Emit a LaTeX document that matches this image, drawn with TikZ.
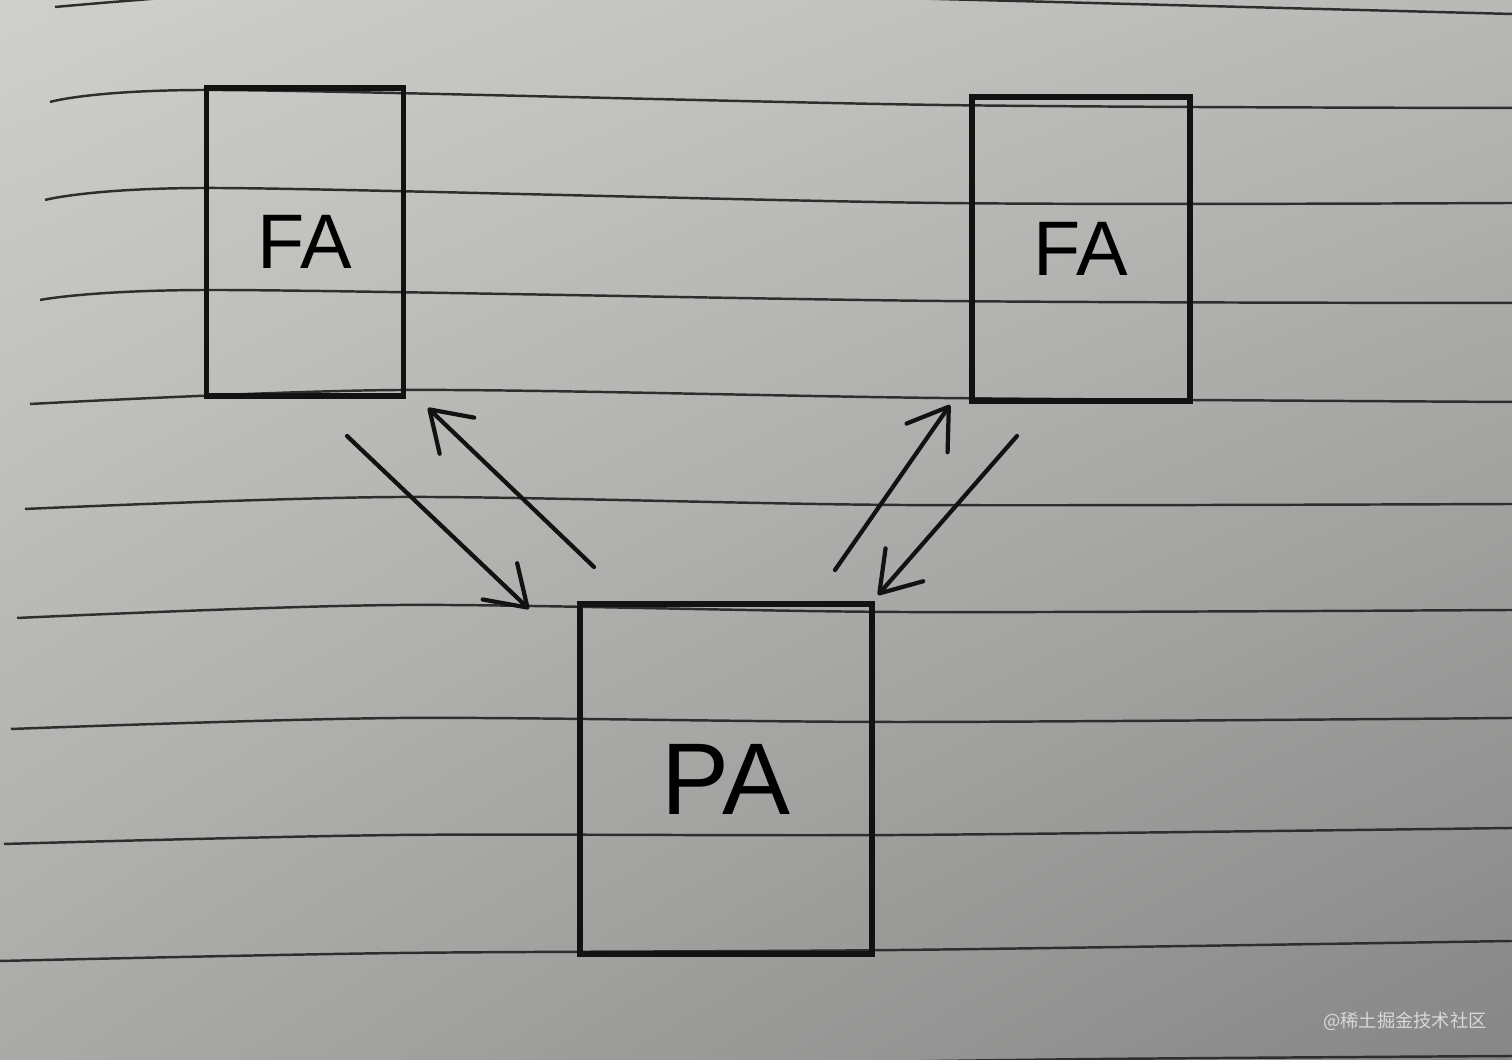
\documentclass[tikz,border=0pt]{standalone}
\usepackage{fontspec}
\setsansfont{Liberation Sans}
\newfontfamily\cjkfont{Noto Sans CJK SC}
\usetikzlibrary{arrows.meta,shadings}

\definecolor{ink}{HTML}{121212}
\definecolor{ruling}{HTML}{2E2E2E}
\definecolor{wmgray}{HTML}{D8D8D8}
\definecolor{paperUL}{RGB}{207,207,203}
\definecolor{paperUR}{RGB}{184,184,182}
\definecolor{paperLL}{RGB}{170,170,168}
\definecolor{paperLR}{RGB}{134,134,134}

\begin{document}
\begin{tikzpicture}[
    box/.style={draw=ink, line width=1.7pt, font=\sffamily\fontsize{22}{26}\selectfont},
    rule/.style={draw=ruling, line width=0.7pt},
    flow/.style={draw=ink, line width=1.2pt, line cap=round,
        -{Straight Barb[length=3.8mm,width=5mm,round]}},
]
\useasboundingbox (0,0) rectangle (15.12,10.6);
\clip (0,0) rectangle (15.12,10.6);

% Paper
\shade[upper left=paperUL, upper right=paperUR,
       lower left=paperLL, lower right=paperLR]
    (0,0) rectangle (15.12,10.6);

\draw[rule] plot[smooth] coordinates {(0.55,10.53) (4,10.75) (9,10.62) (15.12,10.46)};
\draw[rule] plot[smooth] coordinates {(0.50,9.58) (2.15,9.70) (9.40,9.55) (15.12,9.52)};
\draw[rule] plot[smooth] coordinates {(0.45,8.60) (2.15,8.72) (9.40,8.57) (15.12,8.57)};
\draw[rule] plot[smooth] coordinates {(0.40,7.60) (2.15,7.70) (9.40,7.59) (15.12,7.57)};
\draw[rule] plot[smooth] coordinates {(0.30,6.56) (4.00,6.70) (9.40,6.62) (15.12,6.58)};
\draw[rule] plot[smooth] coordinates {(0.25,5.51) (4.00,5.63) (9.00,5.55) (15.12,5.56)};
\draw[rule] plot[smooth] coordinates {(0.17,4.42) (4.00,4.55) (9.00,4.48) (15.12,4.50)};
\draw[rule] plot[smooth] coordinates {(0.11,3.31) (4.00,3.42) (9.00,3.38) (15.12,3.42)};
\draw[rule] plot[smooth] coordinates {(0.04,2.16) (4.00,2.25) (9.00,2.25) (15.12,2.32)};
\draw[rule] plot[smooth] coordinates {(0.00,0.99) (4.00,1.07) (9.00,1.10) (15.12,1.19)};
\draw[rule] plot[smooth] coordinates {(8.00,-0.03) (11.00,0.01) (15.12,0.04)};

% Boxes
\node[box, minimum width=1.97cm, minimum height=3.08cm] (fa1) at (3.05,8.18) {FA};
\node[box, minimum width=2.18cm, minimum height=3.04cm] (fa2) at (10.81,8.11) {FA};
\node[box, minimum width=2.92cm, minimum height=3.5cm,
      font=\sffamily\fontsize{29}{33}\selectfont] (pa) at (7.26,2.81) {PA};

% Left pair
\draw[flow] ([xshift=0.42cm,yshift=-0.37cm]fa1.south) -- ([xshift=-0.48cm,yshift=-0.08cm]pa.north west);
\draw[flow] ([xshift=0.17cm,yshift=0.34cm]pa.north west) -- ([xshift=0.215cm,yshift=-0.09cm]fa1.south east);

% Right pair
\draw[flow] ([xshift=-0.40cm,yshift=0.31cm]pa.north east) -- ([xshift=-0.19cm,yshift=-0.01cm]fa2.south west);
\draw[flow] ([xshift=-0.64cm,yshift=-0.32cm]fa2.south) -- ([xshift=0.03cm,yshift=0.06cm]pa.north east);

\node[font=\cjkfont\fontsize{5.2}{6}\selectfont, text=wmgray] (wm) at (14.05,0.39) {@稀土掘金技术社区};
\end{tikzpicture}
\end{document}
